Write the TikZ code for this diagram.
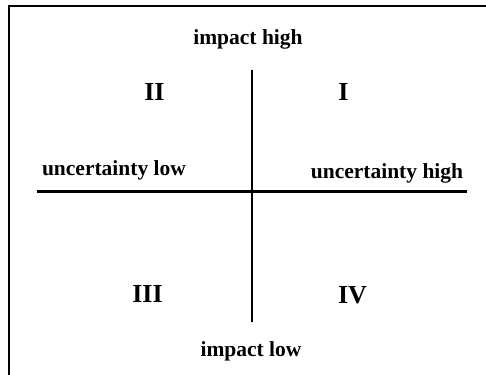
\documentclass[tikz,border=0pt]{standalone}
\usepackage{fontspec}
\setmainfont{Liberation Serif}
\begin{document}
\begin{tikzpicture}[x=1pt,y=-1pt,
  lbl/.style={font=\fontsize{21.5}{24}\selectfont\bfseries, inner sep=0pt, anchor=base},
  num/.style={font=\fontsize{26}{30}\selectfont\bfseries, inner sep=0pt, anchor=base},
  axisv/.style={line width=2pt, black},
  axish/.style={line width=2.8pt, black},
  framelin/.style={line width=2pt, black}]
\useasboundingbox (0,0) rectangle (486,374);
\begin{scope}
  \clip (0,0) rectangle (486,374);
  \draw[framelin] (9,6) rectangle (520,420);
\end{scope}
% axes
\coordinate (vtop) at (252,70);
\coordinate (vbot) at (252,322);
\coordinate (hleft) at (37,191.3);
\coordinate (hright) at (467,191.3);
\draw[axisv] (vtop) -- (vbot);
\draw[axish] (hleft) -- (hright);
% labels
\node[lbl] (ih) at (248,45) {impact high};
\node[lbl] (il) at (251,356) {impact low};
\node[lbl] (ul) at (114,175.7) {uncertainty low};
\node[lbl] (uh) at (387,178.3) {uncertainty high};
% quadrant numerals
\node[num] (q2) at (154.5,100.7) {II};
\node[num] (q1) at (343.5,100.7) {I};
\node[num] (q3) at (147.5,302.7) {III};
\node[num] (q4) at (352.5,303) {IV};
\end{tikzpicture}
\end{document}
